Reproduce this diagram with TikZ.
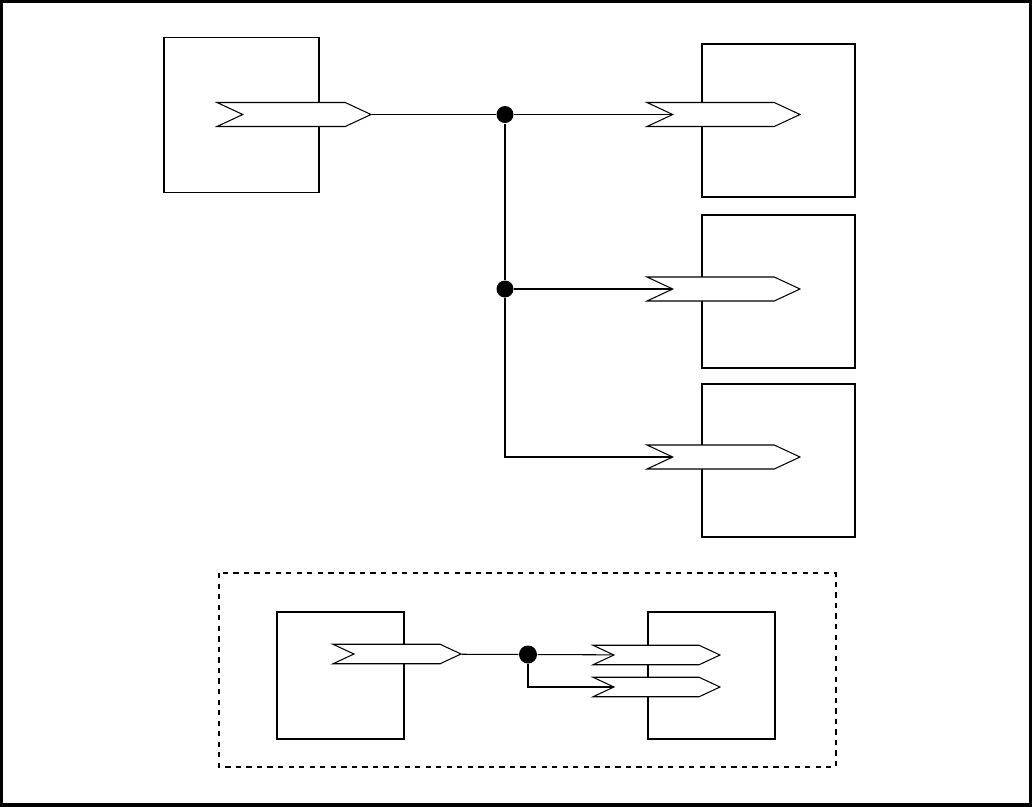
\documentclass[tikz,border=0pt]{standalone}
\usetikzlibrary{shapes.symbols}
\tikzset{
  block/.style={draw, inner sep=0pt, minimum size=3.06cm},
  port/.style={signal, signal from=west, signal to=east, signal pointer angle=50,
    draw, fill=white, inner sep=0pt, minimum width=3.06cm, minimum height=0.48cm},
  joint/.style={circle, fill, inner sep=0pt, minimum size=0.34cm},
}
\begin{document}
\begin{tikzpicture}[x=0.02cm, y=-0.02cm, line width=0.6pt]
  \useasboundingbox (0,0) rectangle (1032,806);
  \draw[line width=2pt] (1,1) rectangle (1031,805);
  % one output fanned out to three inputs
  \node[block, minimum size=3.1cm] (src) at (241.5,115) {};
  \foreach \i/\y in {1/120.5, 2/291.5, 3/460.5}
    \node[block] (dst\i) at (778.5,\y) {};
  \node[port, minimum width=3.08cm] (srcport) at (294,114.5) {};
  \foreach \i/\y in {1/114.5, 2/289, 3/457}
    \node[port] (dstport\i) at (723.5,\y) {};
  \node[joint] (j1) at (505,114.5) {};
  \node[joint] (j2) at (505,289) {};
  \draw (srcport) -- (j1) -- (dstport1);
  \draw (j1) -- (j2) -- (dstport2);
  \draw (j2) |- (dstport3);
  % the same, folded into one block
  \draw[dashed] (219,573) rectangle (836,767);
  \node[block, minimum size=2.54cm] (isrc) at (340.5,675.5) {};
  \node[block, minimum size=2.54cm] (idst) at (711.5,675.5) {};
  \node[port, minimum width=2.56cm, minimum height=0.39cm] (isrcport) at (397,654) {};
  \foreach \i/\y in {1/655, 2/687}
    \node[port, minimum width=2.54cm, minimum height=0.39cm] (idstport\i) at (656.5,\y) {};
  \node[joint, minimum size=0.36cm] (j3) at (528,654.5) {};
  \draw (isrcport) -- (j3) -- (idstport1);
  \draw (j3) |- (idstport2);
\end{tikzpicture}
\end{document}
